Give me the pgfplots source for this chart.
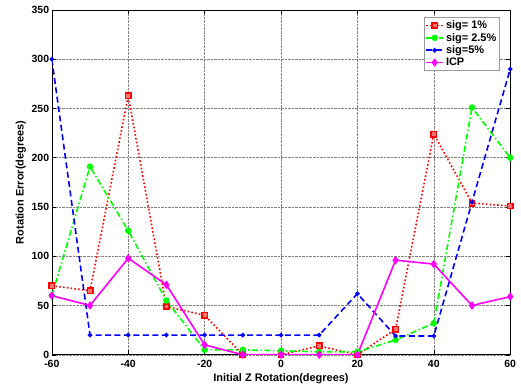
\documentclass[border=0pt]{standalone}
\usepackage{pgfplots}
\pgfplotsset{compat=1.18}
\usepackage{fontspec}
\setmainfont{Liberation Sans}
\definecolor{mred}{RGB}{255,0,0}
\definecolor{mgreen}{RGB}{0,255,0}
\definecolor{mblue}{RGB}{0,0,255}
\definecolor{mmag}{RGB}{255,0,255}
\begin{document}
\begin{tikzpicture}
\begin{axis}[
  name=ax,
  scale only axis,
  width=460pt, height=346pt,
  xmin=-60, xmax=60, ymin=0, ymax=350,
  xtick={-60,-40,...,60}, ytick={0,50,...,350},
  grid=major,
  major grid style={densely dotted, gray, line width=0.5pt},
  tick align=inside,
  tick style={black, line width=0.5pt},
  axis line style={black, line width=0.6pt},
  /pgf/number format/assume math mode=true,
  ticklabel style={font=\bfseries\fontsize{10.5}{12}\selectfont},
  xticklabel style={inner sep=5pt},
  yticklabel style={inner sep=2.5pt},
  xlabel={\bfseries Initial Z Rotation(degrees)},
  ylabel={\bfseries Rotation Error(degrees)},
  label style={font=\bfseries\fontsize{11}{13}\selectfont},
  xlabel style={at={(axis description cs:0.5,0)}, anchor=center, yshift=-24pt},
  ylabel style={at={(axis description cs:0,0.5)}, anchor=center, yshift=31pt},
  legend style={at={(0.978,0.98)}, anchor=north east, font=\bfseries\fontsize{11}{13}\selectfont,
    draw=gray!80, line width=0.7pt, inner sep=1.5pt, row sep=-1pt},
  legend cell align=left,
]
\addplot[mred, dash pattern=on 1.6pt off 2.2pt, line width=1.6pt, mark=square*, mark size=2.7pt,
  mark options={solid, draw=mred, fill=mred!55}]
  coordinates {(-60,70) (-50,65) (-40,263) (-30,49) (-20,40) (-10,0) (0,0) (10,9) (20,0) (30,26) (40,224) (50,154) (60,151)};
\addlegendentry{sig= 1\%}
\addplot[mgreen, dash pattern=on 6pt off 2.5pt on 1.5pt off 2.5pt, line width=1.6pt, mark=*, mark size=2.4pt,
  mark options={solid, fill=mgreen}]
  coordinates {(-60,60) (-50,191) (-40,126) (-30,55) (-20,5) (-10,5) (0,4) (10,3) (20,3) (30,15) (40,32) (50,251) (60,200)};
\addlegendentry{sig= 2.5\%}
\addplot[mblue, dash pattern=on 6pt off 3.5pt, line width=1.6pt, mark=*, mark size=1.4pt,
  mark options={solid, fill=mblue}]
  coordinates {(-60,300) (-50,20) (-40,20) (-30,20) (-20,20) (-10,20) (0,20) (10,20) (20,62) (30,19) (40,19) (50,155) (60,290)};
\addlegendentry{sig=5\%}
\addplot[mmag, solid, line width=1.6pt, mark=diamond*, mark size=3pt,
  mark options={solid, fill=mmag}]
  coordinates {(-60,60) (-50,50) (-40,98) (-30,71) (-20,10) (-10,0) (0,0) (10,0) (20,0) (30,96) (40,92) (50,50) (60,59)};
\addlegendentry{ICP}
\end{axis}
\path ([xshift=-52pt,yshift=-32pt]ax.south west) rectangle ([xshift=9pt,yshift=10pt]ax.north east);
\end{tikzpicture}
\end{document}
